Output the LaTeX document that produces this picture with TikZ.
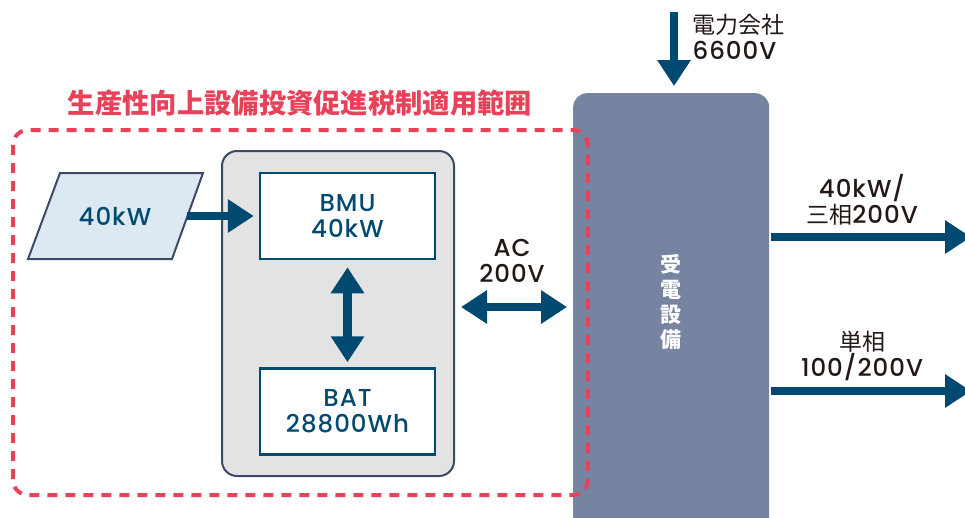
\documentclass[tikz,border=0pt]{standalone}
\usepackage{fontspec}
\setmainfont{Poppins}[UprightFont=* Medium, BoldFont=* Bold, LetterSpace=4]
\newfontfamily\jp{Noto Sans CJK JP}
\usetikzlibrary{arrows.meta}
\definecolor{dblue}{HTML}{004A72}
\definecolor{txtblack}{HTML}{231815}
\definecolor{redline}{HTML}{E8425A}
\definecolor{recvfill}{HTML}{7683A1}
\definecolor{grpfill}{HTML}{E3E3E4}
\definecolor{grpline}{HTML}{3C4A66}
\definecolor{pvfill}{HTML}{DCE8F2}
\begin{document}
\begin{tikzpicture}[x=1pt,y=-1pt,
  bluetxt/.style={font=\fontsize{24.5}{26}\selectfont, text=dblue, align=center},
  blacktxt/.style={font=\fontsize{24.5}{26}\selectfont, text=txtblack, align=center},
  unitbox/.style={draw=dblue, line width=2.5pt, fill=white, minimum width=175pt, minimum height=86pt, inner sep=0pt},
  fat/.style={line width=8.5pt, draw=dblue, -{Triangle[length=26pt,width=32pt]}},
  fatboth/.style={line width=8.5pt, draw=dblue, {Triangle[length=26pt,width=32pt]}-{Triangle[length=26pt,width=32pt]}},
]
\useasboundingbox (0,0) rectangle (965,517);
\clip (0,0) rectangle (965,517);

% receiving equipment
\node[fill=recvfill, rounded corners=14pt, minimum width=196pt, minimum height=440pt, anchor=north west, inner sep=0pt] (recv) at (573,93) {};
\node[text=white, align=center, font=\jp\bfseries\fontsize{21}{25}\selectfont] (recvtxt) at (671,302) {受\\電\\設\\備};

% incoming power
\coordinate (pin) at (674,12);
\draw[fat] (pin) -- ([yshift=7pt]recv.north -| pin);
\node[blacktxt, align=left, anchor=west] (grid) at (689,37) {{\jp\fontsize{23}{26}\selectfont 電力会社}\\6600V};

% title
\node[text=redline, font=\jp\bfseries\fontsize{27.3}{30}\selectfont] (title) at (300,103) {生産性向上設備投資促進税制適用範囲};

% group box
\node[draw=grpline, fill=grpfill, line width=2pt, rounded corners=15pt, minimum width=232pt, minimum height=325pt, anchor=north west, inner sep=0pt] (grp) at (221,150) {};
\node[unitbox, bluetxt] (bmu) at (347.5,216) {BMU\\40kW};
\node[unitbox, bluetxt] (bat) at (347.5,411.5) {BAT\\28800Wh};

% PV
\draw[draw=grpline, fill=pvfill, line width=2pt] (28,259) -- (60,173) -- (203,173) -- (172,259) -- cycle;
\node[bluetxt] (pv) at (115,216) {40kW};
\coordinate (pvr) at (187,216);
\draw[fat] (pvr) -- ([xshift=-5pt]bmu.west);

% BMU <-> BAT
\draw[fatboth, shorten <=7pt, shorten >=5pt] (bmu.south) -- (bat.north);

% AC link
\coordinate (acl) at (grp.east |- 0,307);
\coordinate (acr) at (recv.west |- 0,307);
\draw[fatboth, shorten <=6pt, shorten >=6pt] (acl) -- (acr);
\node[blacktxt] (ac) at (512,261) {AC\\200V};

% outputs
\coordinate (out1) at (971,237);
\coordinate (out2) at (971,391);
\draw[fat, shorten <=2pt] (recv.east |- out1) -- (out1);
\draw[fat, shorten <=2pt] (recv.east |- out2) -- (out2);
\node[blacktxt] (lab1) at (862,200) {40kW/\\{\jp\fontsize{23}{26}\selectfont 三相}200V};
\node[blacktxt] (lab2) at (862,356) {{\jp\fontsize{23}{26}\selectfont 単相}\\100/200V};

% scope boundary
\draw[redline, line width=4pt, dash pattern=on 10pt off 8pt, rounded corners=15pt] (13,130) rectangle (588,495);
\end{tikzpicture}
\end{document}
